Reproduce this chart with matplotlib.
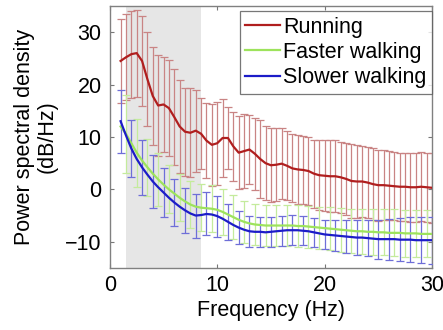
import numpy as np
import matplotlib
matplotlib.use("Agg")
from matplotlib import pyplot as plt

# Frequency grid (Hz), 0.5 Hz steps
freq = np.arange(1.0, 30.01, 0.5)

# Mean power spectral density (dB/Hz)
running_mean = [24.5, 25.2, 25.8, 26.0, 24.5, 21.0, 17.8, 16.0, 16.2, 15.5,
                13.8, 12.0, 11.0, 10.8, 11.2, 10.6, 9.3, 8.5, 8.8, 9.8,
                9.8, 8.2, 7.0, 7.3, 7.6, 6.8, 5.8, 5.0, 4.6, 4.7,
                4.9, 4.5, 4.0, 3.8, 3.7, 3.5, 3.0, 2.7, 2.6, 2.5,
                2.5, 2.3, 2.0, 1.6, 1.5, 1.5, 1.3, 1.0, 0.8, 0.8,
                0.7, 0.6, 0.5, 0.5, 0.4, 0.4, 0.5, 0.4, 0.3]
running_std = [8.0, 8.2, 8.3, 8.3, 8.6, 9.0, 9.4, 9.6, 9.0, 9.2,
               9.2, 8.8, 8.4, 8.5, 7.8, 6.8, 7.2, 7.8, 7.9, 7.4,
               6.0, 6.6, 7.0, 7.0, 6.6, 6.9, 7.4, 7.0, 7.1, 7.0,
               6.8, 6.6, 6.5, 6.5, 6.4, 6.4, 6.5, 6.7, 6.8, 6.9,
               6.9, 6.8, 6.8, 7.0, 6.9, 6.8, 6.8, 6.8, 6.8, 6.7,
               6.6, 6.5, 6.5, 6.5, 6.6, 6.6, 6.6, 6.6, 6.7]

faster_mean = [12.0, 10.6, 8.8, 7.0, 5.5, 4.2, 3.0, 1.9, 0.9, 0.0,
               -0.8, -1.6, -2.3, -2.9, -3.3, -3.5, -3.6, -3.7, -3.9, -4.3,
               -4.8, -5.3, -5.8, -6.2, -6.5, -6.7, -6.8, -6.9, -6.9, -6.9,
               -6.9, -6.9, -6.9, -7.0, -7.0, -7.1, -7.2, -7.3, -7.4, -7.5,
               -7.6, -7.7, -7.8, -7.9, -8.0, -8.0, -8.1, -8.1, -8.2, -8.2,
               -8.3, -8.3, -8.3, -8.4, -8.4, -8.4, -8.5, -8.5, -8.5]
faster_std = [7.5, 7.5, 7.0, 6.5, 6.0, 5.5, 5.2, 5.0, 4.8, 4.6,
              4.5, 4.5, 4.5, 4.5, 4.5, 4.5, 4.5, 4.5, 4.5, 4.4,
              4.3, 4.2, 4.1, 4.0, 4.0, 4.0, 4.0, 4.0, 4.0, 4.0,
              4.0, 4.0, 4.0, 4.0, 4.0, 4.0, 4.0, 4.0, 4.0, 4.1,
              4.1, 4.2, 4.2, 4.2, 4.3, 4.3, 4.3, 4.4, 4.4, 4.4,
              4.4, 4.5, 4.5, 4.5, 4.5, 4.5, 4.5, 4.5, 4.5]

slower_mean = [13.0, 10.3, 7.8, 5.8, 4.2, 2.8, 1.5, 0.4, -0.6, -1.6,
               -2.5, -3.3, -4.0, -4.6, -5.0, -4.9, -4.7, -4.8, -5.1, -5.6,
               -6.2, -6.8, -7.3, -7.7, -8.0, -8.1, -8.1, -8.2, -8.1, -8.0,
               -7.9, -7.8, -7.8, -7.8, -7.9, -8.0, -8.2, -8.4, -8.6, -8.7,
               -8.8, -8.9, -9.0, -9.1, -9.2, -9.2, -9.3, -9.4, -9.5, -9.5,
               -9.5, -9.5, -9.6, -9.6, -9.6, -9.7, -9.7, -9.7, -9.7]
slower_std = [6.0, 5.8, 5.5, 5.4, 5.3, 5.1, 5.0, 4.8, 4.6, 4.5,
              4.4, 4.3, 4.3, 4.2, 4.2, 4.2, 4.1, 4.0, 3.9, 3.7,
              3.5, 3.3, 3.1, 3.0, 3.0, 3.0, 2.9, 2.9, 2.9, 2.9,
              2.9, 2.9, 2.9, 2.9, 2.8, 2.8, 2.8, 2.7, 2.7, 2.8,
              2.9, 3.0, 3.1, 3.2, 3.3, 3.4, 3.5, 3.6, 3.7, 3.8,
              3.9, 4.0, 4.1, 4.2, 4.3, 4.3, 4.4, 4.5, 4.5]

labels = ["Running", "Faster walking", "Slower walking"]

plt.rcParams['font.family'] = ['Liberation Sans', 'DejaVu Sans']
fs = 15.5

fig = plt.figure(figsize=(4.43, 3.30), dpi=100)
ax = fig.add_axes([0.248, 0.188, 0.727, 0.794])

# shaded frequency band
ax.axvspan(1.5, 8.5, color="#e6e6e6", lw=0, zorder=0)

# error bars: running at every point, walking ones interleaved
ax.errorbar(freq, running_mean, yerr=running_std, fmt="none", ecolor="#c98484",
            elinewidth=0.9, capsize=3, capthick=0.9, zorder=2)
ax.errorbar(freq, faster_mean, yerr=faster_std, fmt="none", ecolor="#c4eb9c",
            elinewidth=0.9, capsize=3, capthick=0.9, errorevery=(1, 2), zorder=3)
ax.errorbar(freq, slower_mean, yerr=slower_std, fmt="none", ecolor="#6e6ed8",
            elinewidth=0.9, capsize=3, capthick=0.9, errorevery=(0, 2), zorder=4)

# mean lines
ax.plot(freq, running_mean, color="#b01e1e", lw=1.6, label=labels[0], zorder=5)
ax.plot(freq, faster_mean, color="#9de35c", lw=1.6, label=labels[1], zorder=5)
ax.plot(freq, slower_mean, color="#1c1cc8", lw=1.6, label=labels[2], zorder=6)

ax.set_xlim(0, 30)
ax.set_ylim(-15, 35)
ax.set_xticks([0, 10, 20, 30])
ax.set_yticks([-10, 0, 10, 20, 30])
ax.set_yticklabels(["\u221210", "0", "10", "20", "30"])
ax.tick_params(direction="in", length=3, width=0.8, color="#777777",
               labelsize=fs, top=True, right=True)
ax.tick_params(axis="x", pad=5)
ax.tick_params(axis="y", pad=6)
for s in ax.spines.values():
    s.set_color("#808080")
    s.set_linewidth(1.0)

ax.set_xlabel("Frequency (Hz)", fontsize=fs, labelpad=3)
ax.set_ylabel("Power spectral density\n(dB/Hz)", fontsize=fs, labelpad=5,
              linespacing=1.15)

leg = ax.legend(loc="upper right", bbox_to_anchor=(1.0, 0.98), fontsize=fs,
                frameon=True, fancybox=False, edgecolor="#555555",
                handlelength=1.6, handletextpad=0.15, labelspacing=0.2,
                borderpad=0.25, borderaxespad=0)
leg.get_frame().set_linewidth(0.9)

fig.savefig("out.png", dpi=100)
